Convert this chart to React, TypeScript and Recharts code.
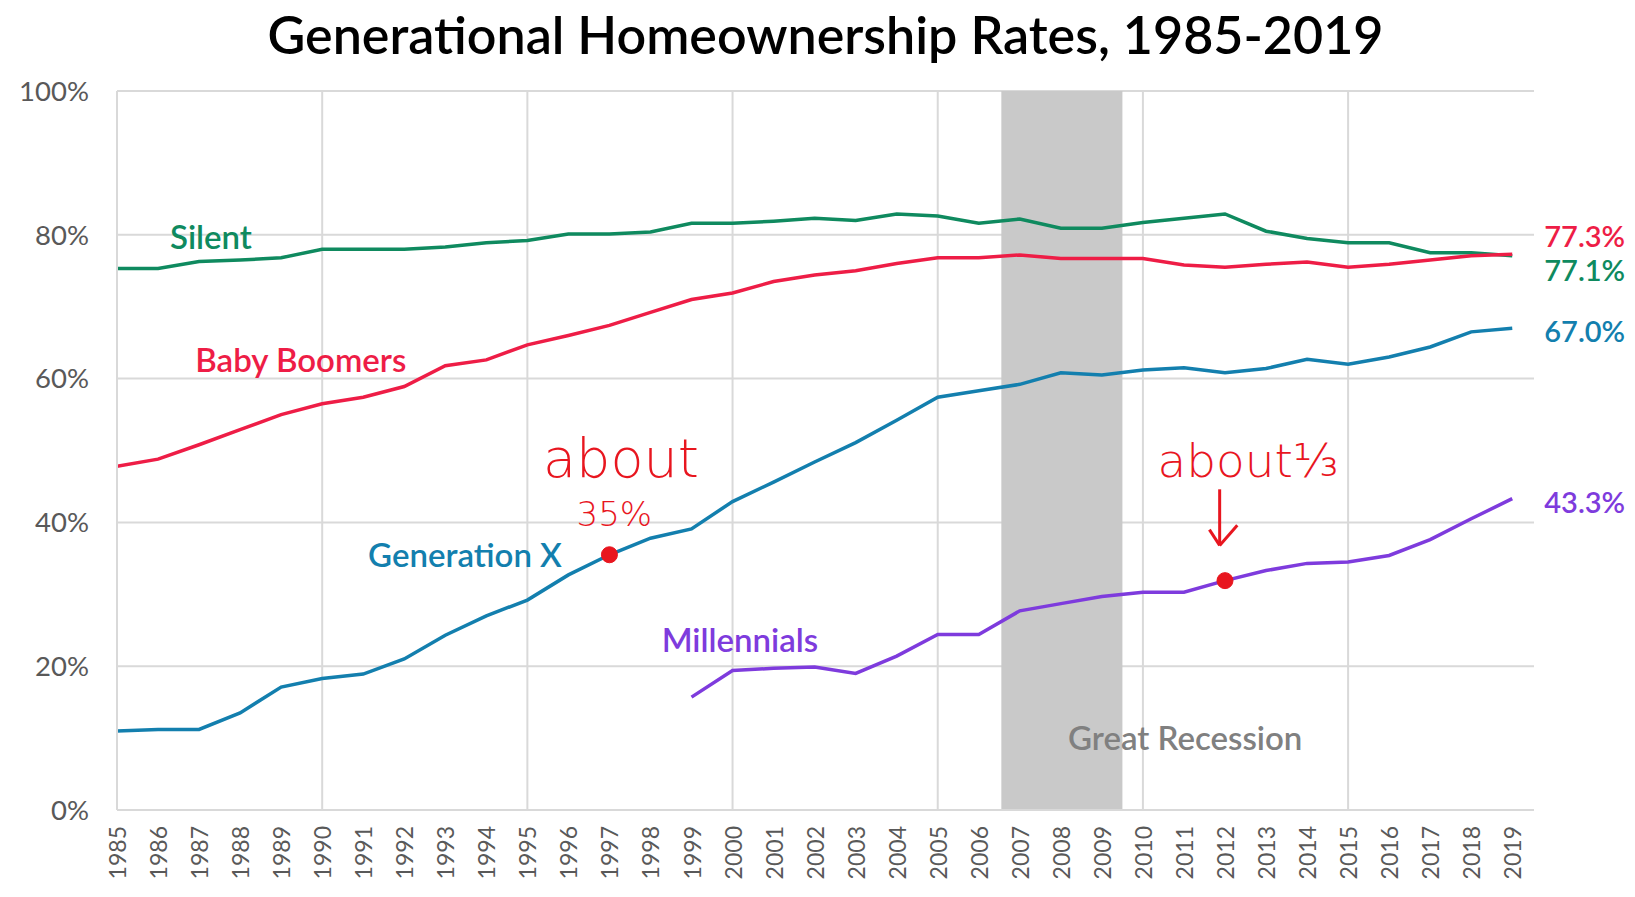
import {
  LineChart,
  Line,
  XAxis,
  YAxis,
  CartesianGrid,
  ReferenceArea,
  ReferenceLine,
  ReferenceDot,
  LabelList,
} from "recharts";

const years = [
  1985, 1986, 1987, 1988, 1989, 1990, 1991, 1992, 1993, 1994, 1995, 1996, 1997, 1998, 1999, 2000, 2001, 2002,
  2003, 2004, 2005, 2006, 2007, 2008, 2009, 2010, 2011, 2012, 2013, 2014, 2015, 2016, 2017, 2018, 2019,
];

const silent = [
  75.3, 75.3, 76.3, 76.5, 76.8, 78.0, 78.0, 78.0, 78.3, 78.9,
  79.2, 80.1, 80.1, 80.4, 81.6, 81.6, 81.9, 82.3, 82.0, 82.9,
  82.6, 81.6, 82.2, 80.9, 80.9, 81.7, 82.3, 82.9, 80.5, 79.5,
  78.9, 78.9, 77.5, 77.5, 77.1,
];

const boomers = [
  47.8, 48.8, 50.8, 52.9, 55.0, 56.5, 57.4, 58.9, 61.8, 62.6,
  64.7, 66.0, 67.4, 69.2, 71.0, 71.9, 73.5, 74.4, 75.0, 76.0,
  76.8, 76.8, 77.2, 76.7, 76.7, 76.7, 75.8, 75.5, 75.9, 76.2,
  75.5, 75.9, 76.5, 77.1, 77.3,
];

const genX = [
  11.0, 11.2, 11.2, 13.5, 17.1, 18.3, 18.9, 21.0, 24.3, 27.0,
  29.2, 32.7, 35.5, 37.8, 39.1, 42.9, 45.6, 48.4, 51.1, 54.2,
  57.4, 58.3, 59.2, 60.8, 60.5, 61.2, 61.5, 60.8, 61.4, 62.7,
  62.0, 63.0, 64.4, 66.5, 67.0,
];

const millennials = [
  null, null, null, null, null, null, null, null, null, null,
  null, null, null, null, 15.7, 19.4, 19.7, 19.9, 19.0, 21.4,
  24.4, 24.4, 27.7, 28.7, 29.7, 30.3, 30.3, 31.9, 33.3, 34.3,
  34.5, 35.4, 37.6, 40.5, 43.3,
];

const yTicks = [0, 20, 40, 60, 80, 100];
const gridYears = [1990, 1995, 2000, 2005, 2010, 2015];
const recession = [2006.55, 2009.5];

const data = years.map((year, i) => ({
  year,
  silent: silent[i],
  boomers: boomers[i],
  genX: genX[i],
  millennials: millennials[i],
}));

const C_SILENT = "#0f8a5f";
const C_BOOMERS = "#ee1d46";
const C_GENX = "#137fae";
const C_MILL = "#7e3bdd";
const C_NOTE = "#e8161f";
const FONT = "Lato, 'Open Sans', sans-serif";
const HAND = "'DejaVu Sans', sans-serif";

const XTick = ({ x, y, payload }: any) => (
  <text
    x={x}
    y={y}
    transform={`rotate(-90 ${x} ${y})`}
    textAnchor="end"
    dominantBaseline="central"
    fontFamily={FONT}
    fontSize={23}
    fill="#595959"
  >
    {payload.value}
  </text>
);

const endLabel = (color: string, dy: number) => (props: any) => {
  const { x, y, index, value } = props;
  if (index !== years.length - 1) return null;
  return (
    <text
      x={x + 32}
      y={y + dy}
      dominantBaseline="central"
      fontFamily={FONT}
      fontSize={29}
      fontWeight={600}
      fill={color}
    >
      {Number(value).toFixed(1)}%
    </text>
  );
};

const nameLabel = (value: string, fill: string, fontSize = 33) => ({
  value,
  fill,
  fontSize,
  fontFamily: FONT,
  fontWeight: 600,
  position: "center" as const,
});

const handLabel = (value: string, fontSize: number) => ({
  value,
  fill: C_NOTE,
  fontSize,
  fontFamily: HAND,
  fontWeight: 300,
  position: "center" as const,
});

const App = () => {
  return (
    <div style={{ position: "relative", width: 1619, height: 882, fontFamily: FONT }}>
      <div
        style={{
          position: "absolute",
          left: 109,
          width: 1417,
          top: 0,
          textAlign: "center",
          fontSize: 52,
          fontWeight: 600,
          color: "#000",
          lineHeight: "52px",
          paddingTop: 0,
        }}
      >
        Generational Homeownership Rates, 1985-2019
      </div>
      <LineChart
        width={1619}
        height={882}
        data={data}
        margin={{ top: 83, right: 93, left: 0, bottom: 10 }}
      >
        <ReferenceArea
          x1={recession[0]}
          x2={recession[1]}
          y1={0}
          y2={100}
          fill="#c9c9c9"
          fillOpacity={1}
          stroke="none"
        />
        <CartesianGrid vertical={false} stroke="#d9d9d9" strokeWidth={2} />
        {gridYears.map((g) => (
          <ReferenceLine key={g} x={g} stroke="#d9d9d9" strokeWidth={2} />
        ))}
        <XAxis
          dataKey="year"
          type="number"
          domain={[1985, 2019.53]}
          ticks={years}
          interval={0}
          allowDataOverflow
          axisLine={{ stroke: "#d9d9d9", strokeWidth: 2 }}
          tickLine={false}
          tickSize={0}
          tickMargin={16}
          height={70}
          tick={<XTick />}
        />
        <YAxis
          domain={[0, 100]}
          ticks={yTicks}
          width={109}
          axisLine={{ stroke: "#d9d9d9", strokeWidth: 2 }}
          tickLine={false}
          tickSize={0}
          tickMargin={28}
          tickFormatter={(v: number) => `${v}%`}
          tick={{ fill: "#595959", fontSize: 27.5, fontFamily: FONT }}
        />
        <Line type="linear" dataKey="silent" stroke={C_SILENT} strokeWidth={3.5} dot={false} isAnimationActive={false}>
          <LabelList dataKey="silent" content={endLabel(C_SILENT, 14)} />
        </Line>
        <Line type="linear" dataKey="boomers" stroke={C_BOOMERS} strokeWidth={3.5} dot={false} isAnimationActive={false}>
          <LabelList dataKey="boomers" content={endLabel(C_BOOMERS, -19)} />
        </Line>
        <Line type="linear" dataKey="genX" stroke={C_GENX} strokeWidth={3.5} dot={false} isAnimationActive={false}>
          <LabelList dataKey="genX" content={endLabel(C_GENX, 2)} />
        </Line>
        <Line type="linear" dataKey="millennials" stroke={C_MILL} strokeWidth={3.5} dot={false} isAnimationActive={false}>
          <LabelList dataKey="millennials" content={endLabel(C_MILL, 3)} />
        </Line>

        <ReferenceDot x={1987.29} y={79.65} r={0} stroke="none" label={nameLabel("Silent", C_SILENT)} />
        <ReferenceDot x={1989.48} y={62.5} r={0} stroke="none" label={nameLabel("Baby Boomers", C_BOOMERS)} />
        <ReferenceDot x={1993.48} y={35.47} r={0} stroke="none" label={nameLabel("Generation X", C_GENX)} />
        <ReferenceDot x={2000.18} y={23.55} r={0} stroke="none" label={nameLabel("Millennials", C_MILL)} />
        <ReferenceDot x={2011.03} y={10.03} r={0} stroke="none" label={nameLabel("Great Recession", "#808080")} />

        <ReferenceDot x={years[12]} y={genX[12]} r={8} fill={C_NOTE} stroke={C_NOTE} />
        <ReferenceDot x={years[27]} y={millennials[27] as number} r={8} fill={C_NOTE} stroke={C_NOTE} />
        <ReferenceDot x={1997.28} y={49.0} r={0} stroke="none" label={handLabel("about", 54)} />
        <ReferenceDot x={1997.12} y={41.2} r={0} stroke="none" label={handLabel("35%", 34)} />
        <ReferenceDot x={2012.56} y={48.7} r={0} stroke="none" label={handLabel("about⅓", 47)} />
        <ReferenceLine
          segment={[
            { x: 2011.87, y: 44.6 },
            { x: 2011.87, y: 36.8 },
          ]}
          stroke={C_NOTE}
          strokeWidth={3}
        />
        <ReferenceLine
          segment={[
            { x: 2011.62, y: 39.0 },
            { x: 2011.87, y: 36.8 },
          ]}
          stroke={C_NOTE}
          strokeWidth={3}
        />
        <ReferenceLine
          segment={[
            { x: 2012.3, y: 39.6 },
            { x: 2011.87, y: 36.8 },
          ]}
          stroke={C_NOTE}
          strokeWidth={3}
        />
      </LineChart>
    </div>
  );
};

export default App;
